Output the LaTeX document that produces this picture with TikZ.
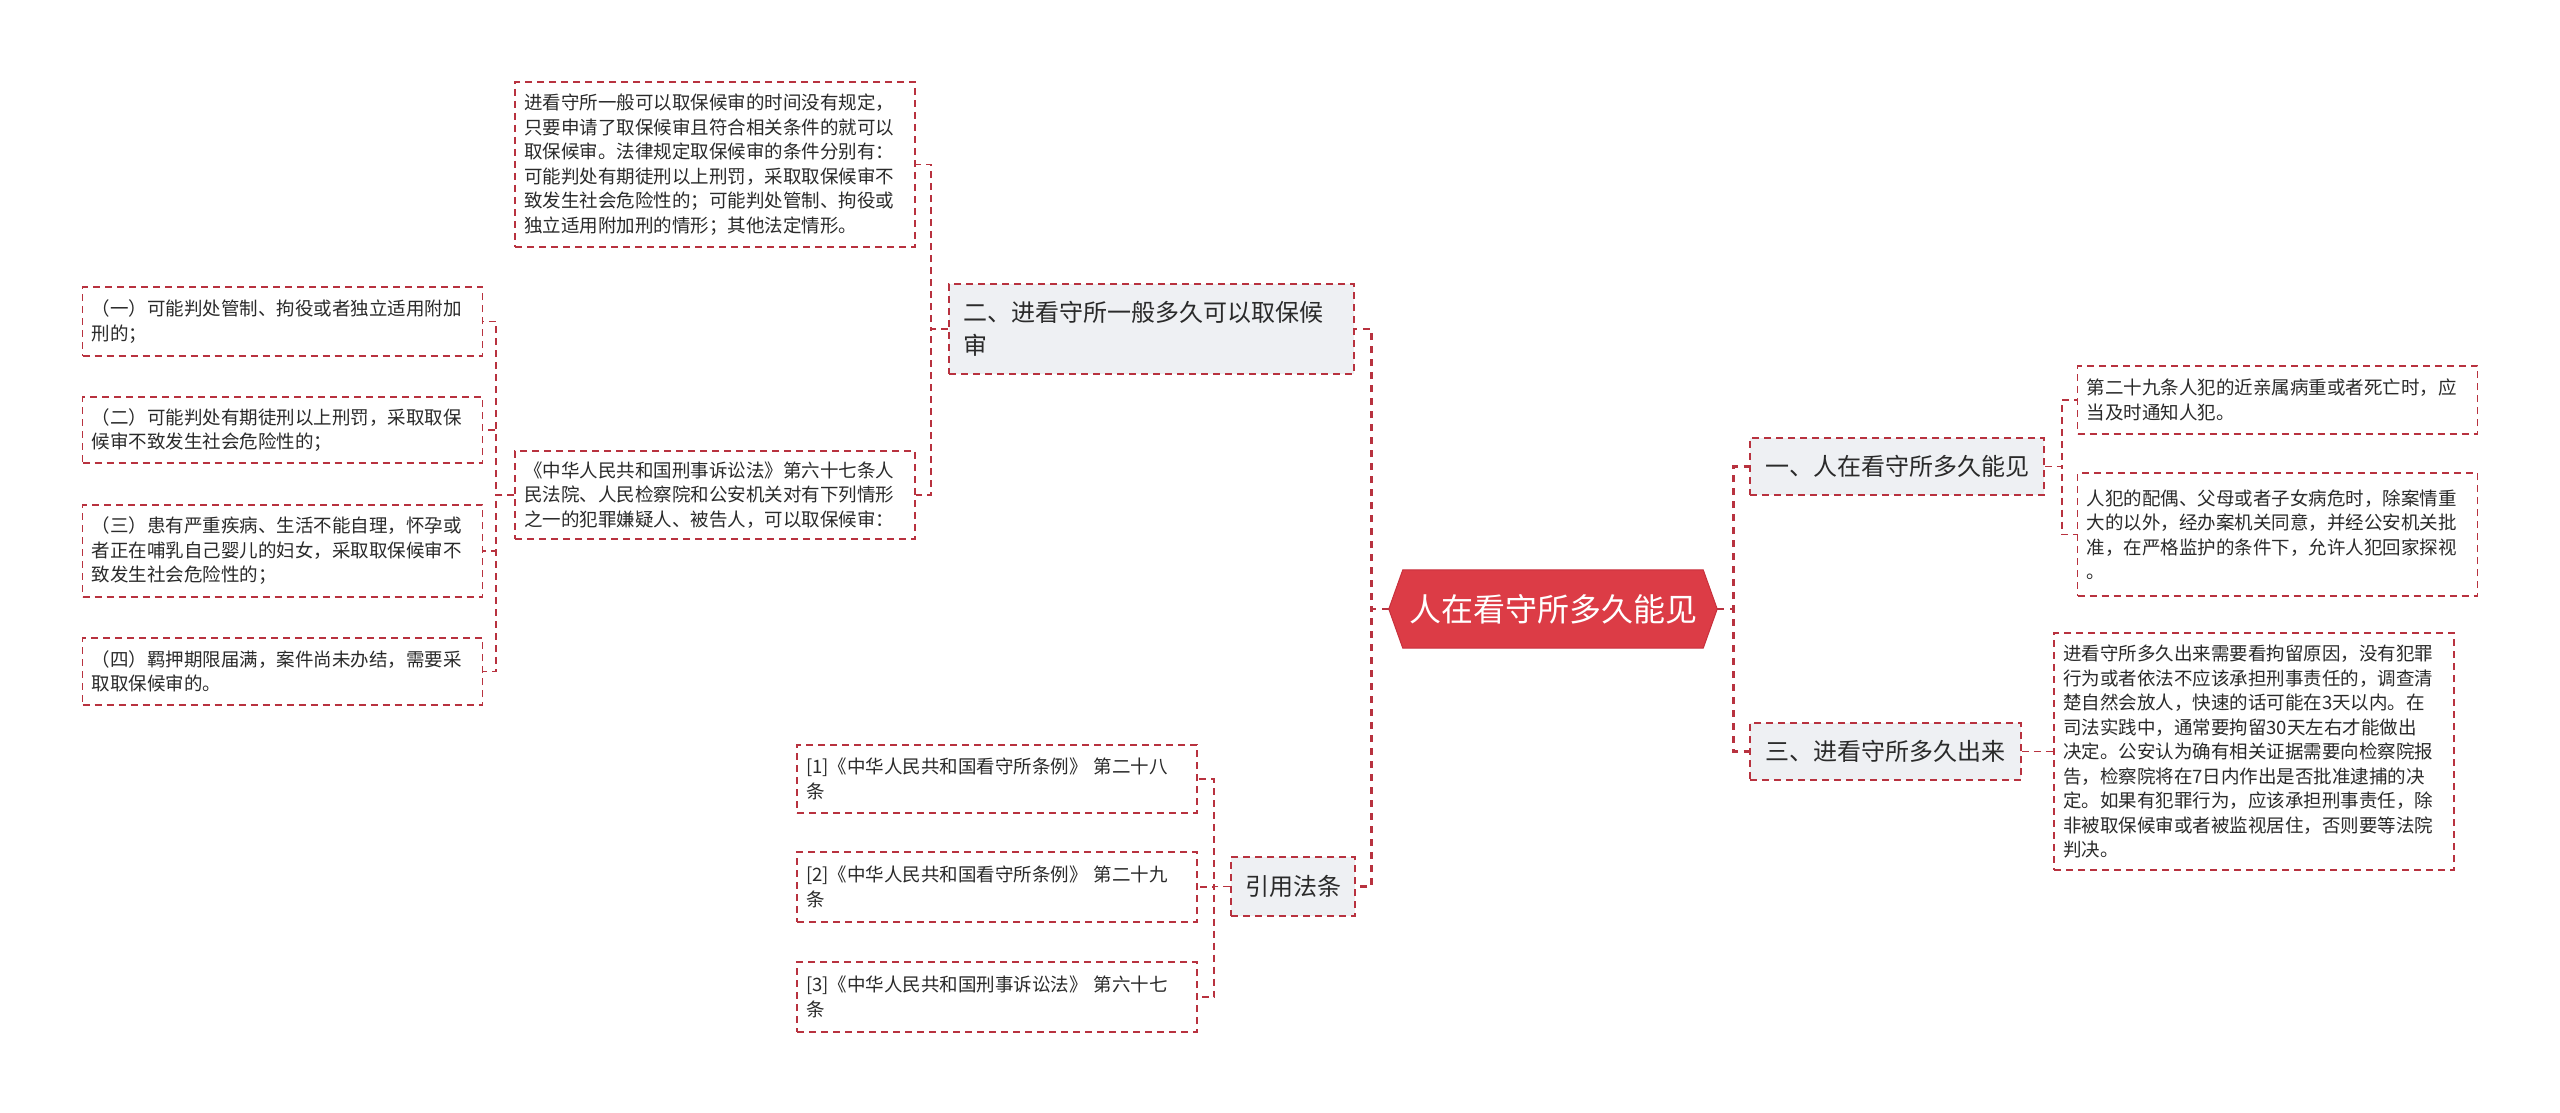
\documentclass[tikz,border=0pt]{standalone}
\usepackage{fontspec}
\setmainfont{Noto Sans CJK SC}
\usetikzlibrary{backgrounds}
\definecolor{lineRed}{HTML}{B8323F}
\definecolor{rootRed}{HTML}{DC3C46}
\definecolor{rootEdge}{HTML}{C8303C}
\definecolor{lvlGray}{HTML}{EEF0F3}
\definecolor{txt}{HTML}{2A2A2A}
\tikzset{
  leaf/.style={draw=lineRed, line width=1.6pt, dash pattern=on 7pt off 5pt, fill=white,
    text=txt, font=\fontsize{18.5}{24.5}\selectfont, align=left, text width=382pt,
    inner xsep=9pt, inner ysep=0pt, anchor=center},
  lvl/.style={draw=lineRed, line width=1.6pt, dash pattern=on 7pt off 5pt, fill=lvlGray,
    text=txt, font=\fontsize{24}{33}\selectfont, inner xsep=14pt, inner ysep=0pt, anchor=center},
  link/.style={draw=lineRed, line width=1.6pt, dash pattern=on 7pt off 5pt},
  mainlink/.style={draw=lineRed, line width=2.8pt, dash pattern=on 7pt off 6pt},
  rootnode/.style={font=\fontsize{32}{38}\selectfont, text=white, minimum width=328pt,
    minimum height=78pt, inner sep=0pt, anchor=center}
}
\begin{document}
\begin{tikzpicture}[x=1pt,y=-1pt]
\useasboundingbox (0,0) rectangle (2560,1113);

% root
\node[rootnode] (root) at (1553,609) {人在看守所多久能见};
\begin{scope}[on background layer]
\filldraw[fill=rootRed, draw=rootEdge, line width=1pt]
  (root.west) -- ([xshift=14pt]root.north west) -- ([xshift=-14pt]root.north east)
  -- (root.east) -- ([xshift=-14pt]root.south east) -- ([xshift=14pt]root.south west) -- cycle;
\end{scope}

% level 1
\node[lvl, text width=377pt, align=left, minimum height=90pt] (N2) at (1151.5,329)
  {二、进看守所一般多久可以取保候\\审};
\node[lvl, minimum width=294pt, minimum height=57pt] (N1) at (1897,466.5) {一、人在看守所多久能见};
\node[lvl, minimum width=271pt, minimum height=57pt] (N3) at (1885.5,751.5) {三、进看守所多久出来};
\node[lvl, minimum width=124pt, minimum height=59pt] (R) at (1293,886.5) {引用法条};

% left branch
\node[leaf, minimum height=165pt] (T) at (715,164.5)
  {进看守所一般可以取保候审的时间没有规定，\\只要申请了取保候审且符合相关条件的就可以\\取保候审。法律规定取保候审的条件分别有：\\可能判处有期徒刑以上刑罚，采取取保候审不\\致发生社会危险性的；可能判处管制、拘役或\\独立适用附加刑的情形；其他法定情形。};
\node[leaf, minimum height=88pt] (M) at (715,495)
  {《中华人民共和国刑事诉讼法》第六十七条人\\民法院、人民检察院和公安机关对有下列情形\\之一的犯罪嫌疑人、被告人，可以取保候审：};
\node[leaf, minimum height=69pt] (L1) at (282.5,321.5)
  {（一）可能判处管制、拘役或者独立适用附加\\刑的；};
\node[leaf, minimum height=66pt] (L2) at (282.5,430)
  {（二）可能判处有期徒刑以上刑罚，采取取保\\候审不致发生社会危险性的；};
\node[leaf, minimum height=92pt] (L3) at (282.5,551)
  {（三）患有严重疾病、生活不能自理，怀孕或\\者正在哺乳自己婴儿的妇女，采取取保候审不\\致发生社会危险性的；};
\node[leaf, minimum height=67pt] (L4) at (282.5,671.5)
  {（四）羁押期限届满，案件尚未办结，需要采\\取取保候审的。};

% references
\node[leaf, minimum height=68pt] (R1) at (997,779)
  {[1]《中华人民共和国看守所条例》 第二十八\\条};
\node[leaf, minimum height=70pt] (R2) at (997,887)
  {[2]《中华人民共和国看守所条例》 第二十九\\条};
\node[leaf, minimum height=70pt] (R3) at (997,997)
  {[3]《中华人民共和国刑事诉讼法》 第六十七\\条};

% right branch
\node[leaf, minimum height=68pt] (A) at (2277.5,400)
  {第二十九条人犯的近亲属病重或者死亡时，应\\当及时通知人犯。};
\node[leaf, minimum height=123pt] (B) at (2277.5,534.5)
  {人犯的配偶、父母或者子女病危时，除案情重\\大的以外，经办案机关同意，并经公安机关批\\准，在严格监护的条件下，允许人犯回家探视\\。};
\node[leaf, minimum height=237pt] (C) at (2254,751.5)
  {进看守所多久出来需要看拘留原因，没有犯罪\\行为或者依法不应该承担刑事责任的，调查清\\楚自然会放人，快速的话可能在3天以内。在\\司法实践中，通常要拘留30天左右才能做出\\决定。公安认为确有相关证据需要向检察院报\\告，检察院将在7日内作出是否批准逮捕的决\\定。如果有犯罪行为，应该承担刑事责任，除\\非被取保候审或者被监视居住，否则要等法院\\判决。};

% connectors from root
\draw[mainlink] (root.west) -- ++(-17,0) |- (N2.east);
\draw[mainlink] (root.west) -- ++(-17,0) |- (R.east);
\draw[mainlink] (root.east) -- ++(16,0) |- (N1.west);
\draw[mainlink] (root.east) -- ++(16,0) |- (N3.west);

% level-1 to leaves
\draw[link] (N2.west) -- ++(-17,0) |- (T.east);
\draw[link] (N2.west) -- ++(-17,0) |- (M.east);
\draw[link] (M.west) -- ++(-18,0) |- (L1.east);
\draw[link] (M.west) -- ++(-18,0) |- (L2.east);
\draw[link] (M.west) -- ++(-18,0) |- (L3.east);
\draw[link] (M.west) -- ++(-18,0) |- (L4.east);
\draw[link] (R.west) -- ++(-16,0) |- (R1.east);
\draw[link] (R.west) -- ++(-16,0) |- (R2.east);
\draw[link] (R.west) -- ++(-16,0) |- (R3.east);
\draw[link] (N1.east) -- ++(17,0) |- (A.west);
\draw[link] (N1.east) -- ++(17,0) |- (B.west);
\draw[link] (N3.east) -- (C.west);
\end{tikzpicture}
\end{document}
